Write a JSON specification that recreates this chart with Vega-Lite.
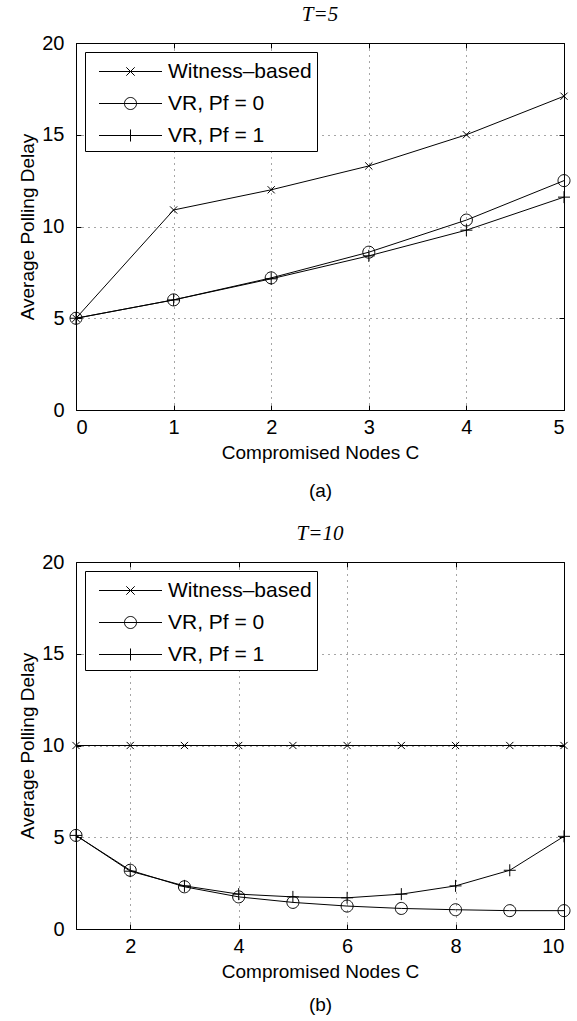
{
  "$schema": "https://vega.github.io/schema/vega-lite/v6.json",
  "padding": {"left": 18, "top": 3, "right": 5, "bottom": 0},
  "background": "white",
  "config": {
    "font": "Liberation Sans",
    "view": {"stroke": "black", "strokeWidth": 1},
    "axis": {
      "labelFont": "Liberation Sans", "labelFontSize": 20, "labelColor": "black",
      "titleFont": "Liberation Sans", "titleFontSize": 19, "titleFontWeight": "normal", "titleColor": "black",
      "domain": false, "tickColor": "black", "tickSize": -5, "labelPadding": 12,
      "gridColor": "black", "gridDash": [1, 5], "gridOpacity": 0.7
    },
    "axisLeft": {"labelPadding": 17},
    "legend": {
      "orient": "top-left", "offset": 9, "strokeColor": "black", "fillColor": "white",
      "padding": 5, "labelFont": "Liberation Sans", "labelFontSize": 21, "labelColor": "black",
      "symbolStrokeColor": "black", "symbolStrokeWidth": 1, "symbolOpacity": 1, "symbolFillColor": "transparent",
      "symbolSize": 784, "symbolOffset": 26, "labelOffset": 23, "rowPadding": 7, "title": null, "cornerRadius": 0
    },
    "title": {"font": "Liberation Serif", "fontSize": 21, "fontStyle": "italic", "fontWeight": "normal", "color": "black", "offset": 8}
  },
  "datasets": {
    "d": [
      {"panel": "a", "C": 0, "delay": 5, "series": "Witness–based"},
      {"panel": "a", "C": 1, "delay": 10.9, "series": "Witness–based"},
      {"panel": "a", "C": 2, "delay": 12.0, "series": "Witness–based"},
      {"panel": "a", "C": 3, "delay": 13.3, "series": "Witness–based"},
      {"panel": "a", "C": 4, "delay": 15.0, "series": "Witness–based"},
      {"panel": "a", "C": 5, "delay": 17.1, "series": "Witness–based"},
      {"panel": "a", "C": 0, "delay": 5, "series": "VR, Pf = 0"},
      {"panel": "a", "C": 1, "delay": 6.0, "series": "VR, Pf = 0"},
      {"panel": "a", "C": 2, "delay": 7.2, "series": "VR, Pf = 0"},
      {"panel": "a", "C": 3, "delay": 8.6, "series": "VR, Pf = 0"},
      {"panel": "a", "C": 4, "delay": 10.35, "series": "VR, Pf = 0"},
      {"panel": "a", "C": 5, "delay": 12.5, "series": "VR, Pf = 0"},
      {"panel": "a", "C": 0, "delay": 5, "series": "VR, Pf = 1"},
      {"panel": "a", "C": 1, "delay": 6.0, "series": "VR, Pf = 1"},
      {"panel": "a", "C": 2, "delay": 7.15, "series": "VR, Pf = 1"},
      {"panel": "a", "C": 3, "delay": 8.4, "series": "VR, Pf = 1"},
      {"panel": "a", "C": 4, "delay": 9.8, "series": "VR, Pf = 1"},
      {"panel": "a", "C": 5, "delay": 11.6, "series": "VR, Pf = 1"},
      {"panel": "b", "C": 1, "delay": 10, "series": "Witness–based"},
      {"panel": "b", "C": 2, "delay": 10, "series": "Witness–based"},
      {"panel": "b", "C": 3, "delay": 10, "series": "Witness–based"},
      {"panel": "b", "C": 4, "delay": 10, "series": "Witness–based"},
      {"panel": "b", "C": 5, "delay": 10, "series": "Witness–based"},
      {"panel": "b", "C": 6, "delay": 10, "series": "Witness–based"},
      {"panel": "b", "C": 7, "delay": 10, "series": "Witness–based"},
      {"panel": "b", "C": 8, "delay": 10, "series": "Witness–based"},
      {"panel": "b", "C": 9, "delay": 10, "series": "Witness–based"},
      {"panel": "b", "C": 10, "delay": 10, "series": "Witness–based"},
      {"panel": "b", "C": 1, "delay": 5.1, "series": "VR, Pf = 0"},
      {"panel": "b", "C": 2, "delay": 3.2, "series": "VR, Pf = 0"},
      {"panel": "b", "C": 3, "delay": 2.3, "series": "VR, Pf = 0"},
      {"panel": "b", "C": 4, "delay": 1.75, "series": "VR, Pf = 0"},
      {"panel": "b", "C": 5, "delay": 1.45, "series": "VR, Pf = 0"},
      {"panel": "b", "C": 6, "delay": 1.25, "series": "VR, Pf = 0"},
      {"panel": "b", "C": 7, "delay": 1.12, "series": "VR, Pf = 0"},
      {"panel": "b", "C": 8, "delay": 1.05, "series": "VR, Pf = 0"},
      {"panel": "b", "C": 9, "delay": 1.0, "series": "VR, Pf = 0"},
      {"panel": "b", "C": 10, "delay": 1.0, "series": "VR, Pf = 0"},
      {"panel": "b", "C": 1, "delay": 5.1, "series": "VR, Pf = 1"},
      {"panel": "b", "C": 2, "delay": 3.15, "series": "VR, Pf = 1"},
      {"panel": "b", "C": 3, "delay": 2.35, "series": "VR, Pf = 1"},
      {"panel": "b", "C": 4, "delay": 1.9, "series": "VR, Pf = 1"},
      {"panel": "b", "C": 5, "delay": 1.75, "series": "VR, Pf = 1"},
      {"panel": "b", "C": 6, "delay": 1.7, "series": "VR, Pf = 1"},
      {"panel": "b", "C": 7, "delay": 1.9, "series": "VR, Pf = 1"},
      {"panel": "b", "C": 8, "delay": 2.35, "series": "VR, Pf = 1"},
      {"panel": "b", "C": 9, "delay": 3.2, "series": "VR, Pf = 1"},
      {"panel": "b", "C": 10, "delay": 5.05, "series": "VR, Pf = 1"}
    ]
  },
  "spacing": 21,
  "vconcat": [
    {
      "width": 488, "height": 367,
      "title": "T=5",
      "data": {"name": "d"},
      "transform": [{"filter": "datum.panel === 'a'"}],
      "resolve": {"scale": {"shape": "independent"}, "axis": {"x": "independent", "y": "independent"}},
      "layer": [
        {
          "mark": {"type": "line", "color": "black", "strokeWidth": 1},
          "encoding": {
            "x": {"field": "C", "type": "quantitative", "scale": {"domain": [0, 5]},
                  "axis": {"values": [0, 1, 2, 3, 4, 5], "title": ["Compromised Nodes C", "(a)"], "titleLineHeight": 38, "titlePadding": 6}},
            "y": {"field": "delay", "type": "quantitative", "scale": {"domain": [0, 20]},
                  "axis": {"values": [0, 5, 10, 15, 20], "title": "Average Polling Delay", "titlePadding": 4}},
            "detail": {"field": "series"}
          }
        },
        {
          "mark": {"type": "point", "filled": false, "color": "black", "strokeWidth": 1, "size": 144, "opacity": 1},
          "encoding": {
            "x": {"field": "C", "type": "quantitative", "axis": {"orient": "top", "labels": false, "title": null, "grid": false, "values": [0, 1, 2, 3, 4, 5]}},
            "y": {"field": "delay", "type": "quantitative", "axis": {"orient": "right", "labels": false, "title": null, "grid": false, "values": [0, 5, 10, 15, 20]}},
            "shape": {"field": "series", "type": "nominal", "legend": null,
                      "scale": {"domain": ["Witness–based", "VR, Pf = 0", "VR, Pf = 1"],
                                "range": ["M-0.6,-0.6L0.6,0.6M-0.6,0.6L0.6,-0.6", "M1,0A1,1,0,1,1,-1,0A1,1,0,1,1,1,0", "M-1,0L1,0M0,-1L0,1"]}}
          }
        },
        {
          "mark": {"type": "point", "filled": false, "color": "black", "strokeWidth": 1, "size": 784, "opacity": 0},
          "encoding": {
            "x": {"field": "C", "type": "quantitative", "axis": null},
            "y": {"field": "delay", "type": "quantitative", "axis": null},
            "shape": {"field": "series", "type": "nominal",
                      "scale": {"domain": ["Witness–based", "VR, Pf = 0", "VR, Pf = 1"],
                                "range": ["M-2.25,0L2.25,0M-0.3,-0.3L0.3,0.3M-0.3,0.3L0.3,-0.3", "M-2.25,0L2.25,0M0.43,0A0.43,0.43,0,1,1,-0.43,0A0.43,0.43,0,1,1,0.43,0", "M-2.25,0L2.25,0M0,-0.43L0,0.43"]}}
          }
        }
      ]
    },
    {
      "width": 488, "height": 367,
      "title": "T=10",
      "data": {"name": "d"},
      "transform": [{"filter": "datum.panel === 'b'"}],
      "resolve": {"scale": {"shape": "independent"}, "axis": {"x": "independent", "y": "independent"}},
      "layer": [
        {
          "mark": {"type": "line", "color": "black", "strokeWidth": 1},
          "encoding": {
            "x": {"field": "C", "type": "quantitative", "scale": {"domain": [1, 10]},
                  "axis": {"values": [2, 4, 6, 8, 10], "title": ["Compromised Nodes C", "(b)"], "titleLineHeight": 33, "titlePadding": 6}},
            "y": {"field": "delay", "type": "quantitative", "scale": {"domain": [0, 20]},
                  "axis": {"values": [0, 5, 10, 15, 20], "title": "Average Polling Delay", "titlePadding": 4}},
            "detail": {"field": "series"}
          }
        },
        {
          "mark": {"type": "point", "filled": false, "color": "black", "strokeWidth": 1, "size": 144, "opacity": 1},
          "encoding": {
            "x": {"field": "C", "type": "quantitative", "axis": {"orient": "top", "labels": false, "title": null, "grid": false, "values": [2, 4, 6, 8, 10]}},
            "y": {"field": "delay", "type": "quantitative", "axis": {"orient": "right", "labels": false, "title": null, "grid": false, "values": [0, 5, 10, 15, 20]}},
            "shape": {"field": "series", "type": "nominal", "legend": null,
                      "scale": {"domain": ["Witness–based", "VR, Pf = 0", "VR, Pf = 1"],
                                "range": ["M-0.6,-0.6L0.6,0.6M-0.6,0.6L0.6,-0.6", "M1,0A1,1,0,1,1,-1,0A1,1,0,1,1,1,0", "M-1,0L1,0M0,-1L0,1"]}}
          }
        },
        {
          "mark": {"type": "point", "filled": false, "color": "black", "strokeWidth": 1, "size": 784, "opacity": 0},
          "encoding": {
            "x": {"field": "C", "type": "quantitative", "axis": null},
            "y": {"field": "delay", "type": "quantitative", "axis": null},
            "shape": {"field": "series", "type": "nominal",
                      "scale": {"domain": ["Witness–based", "VR, Pf = 0", "VR, Pf = 1"],
                                "range": ["M-2.25,0L2.25,0M-0.3,-0.3L0.3,0.3M-0.3,0.3L0.3,-0.3", "M-2.25,0L2.25,0M0.43,0A0.43,0.43,0,1,1,-0.43,0A0.43,0.43,0,1,1,0.43,0", "M-2.25,0L2.25,0M0,-0.43L0,0.43"]}}
          }
        }
      ]
    }
  ]
}
